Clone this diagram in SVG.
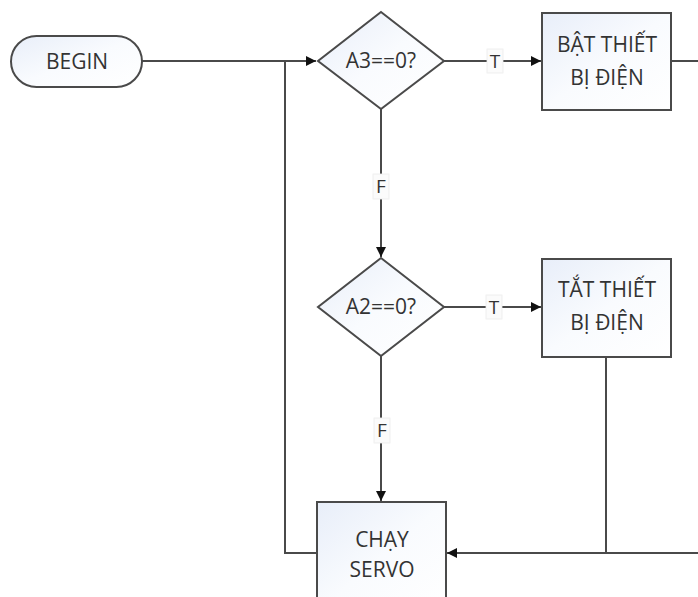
<svg xmlns="http://www.w3.org/2000/svg" width="698" height="597" viewBox="0 0 698 597">
<defs>
<linearGradient id="fillg" x1="0" y1="0" x2="1" y2="1">
<stop offset="0" stop-color="#e8eef9"/>
<stop offset="0.5" stop-color="#f9fbfe"/>
<stop offset="1" stop-color="#ffffff"/>
</linearGradient>
<marker id="arr" viewBox="0 0 10 10" refX="10" refY="5" markerWidth="10" markerHeight="10" markerUnits="userSpaceOnUse" orient="auto">
<path d="M0,0 L10,5 L0,10 z" fill="#111"/>
</marker>
</defs>
<style>
.shape{fill:url(#fillg);stroke:#4a4a4a;stroke-width:2}
.txt{font-family:"Open Sans","Noto Sans",sans-serif;font-size:21px;fill:#333333;text-anchor:middle}
.lbl{font-family:"Open Sans","Noto Sans",sans-serif;font-size:19px;fill:#333333;text-anchor:middle}
.lblbg{fill:#fbfbfb;stroke:#ececec;stroke-width:0.8}
.conn{fill:none;stroke:#4a4a4a;stroke-width:2}
</style>
<rect width="698" height="597" fill="#ffffff"/>
<g id="connectors">
<path class="conn" d="M142,61 H316" marker-end="url(#arr)"/>
<path class="conn" d="M444,61 H541" marker-end="url(#arr)"/>
<path class="conn" d="M671,61 H698"/>
<path class="conn" d="M381,109 V257" marker-end="url(#arr)"/>
<path class="conn" d="M444,307 H541" marker-end="url(#arr)"/>
<path class="conn" d="M381,356 V501" marker-end="url(#arr)"/>
<path class="conn" d="M606,357 V553"/>
<path class="conn" d="M698,553 H447" marker-end="url(#arr)"/>
<path class="conn" d="M317,553 H285 V61"/>
<rect class="lblbg" x="487" y="49" width="16" height="24"/>
<text class="lbl" x="495" y="68">T</text>
<rect class="lblbg" x="373" y="174" width="16" height="25"/>
<text class="lbl" x="381" y="193">F</text>
<rect class="lblbg" x="486" y="295" width="16" height="24"/>
<text class="lbl" x="494" y="314">T</text>
<rect class="lblbg" x="374" y="418" width="16" height="25"/>
<text class="lbl" x="382" y="437">F</text>
</g>
<g id="begin">
<rect class="shape" x="11" y="36" width="131" height="51" rx="25.5" ry="25.5"/>
<text class="txt" x="77" y="69">BEGIN</text>
</g>
<g id="a3">
<polygon class="shape" points="381,12 444,61 381,109 318,61"/>
<text class="txt" x="381" y="68">A3==0?</text>
</g>
<g id="bat">
<rect class="shape" x="542" y="13" width="129" height="97"/>
<text class="txt" x="607" y="52">BẬT THIẾT</text>
<text class="txt" x="607" y="85">BỊ ĐIỆN</text>
</g>
<g id="a2">
<polygon class="shape" points="381,258 444,307 381,356 318,307"/>
<text class="txt" x="381" y="314">A2==0?</text>
</g>
<g id="tat">
<rect class="shape" x="542" y="259" width="129" height="98"/>
<text class="txt" x="607" y="297">TẮT THIẾT</text>
<text class="txt" x="607" y="330">BỊ ĐIỆN</text>
</g>
<g id="chay">
<rect class="shape" x="317" y="502" width="129" height="110"/>
<text class="txt" x="382" y="547">CHẠY</text>
<text class="txt" x="382" y="577">SERVO</text>
</g>
</svg>
